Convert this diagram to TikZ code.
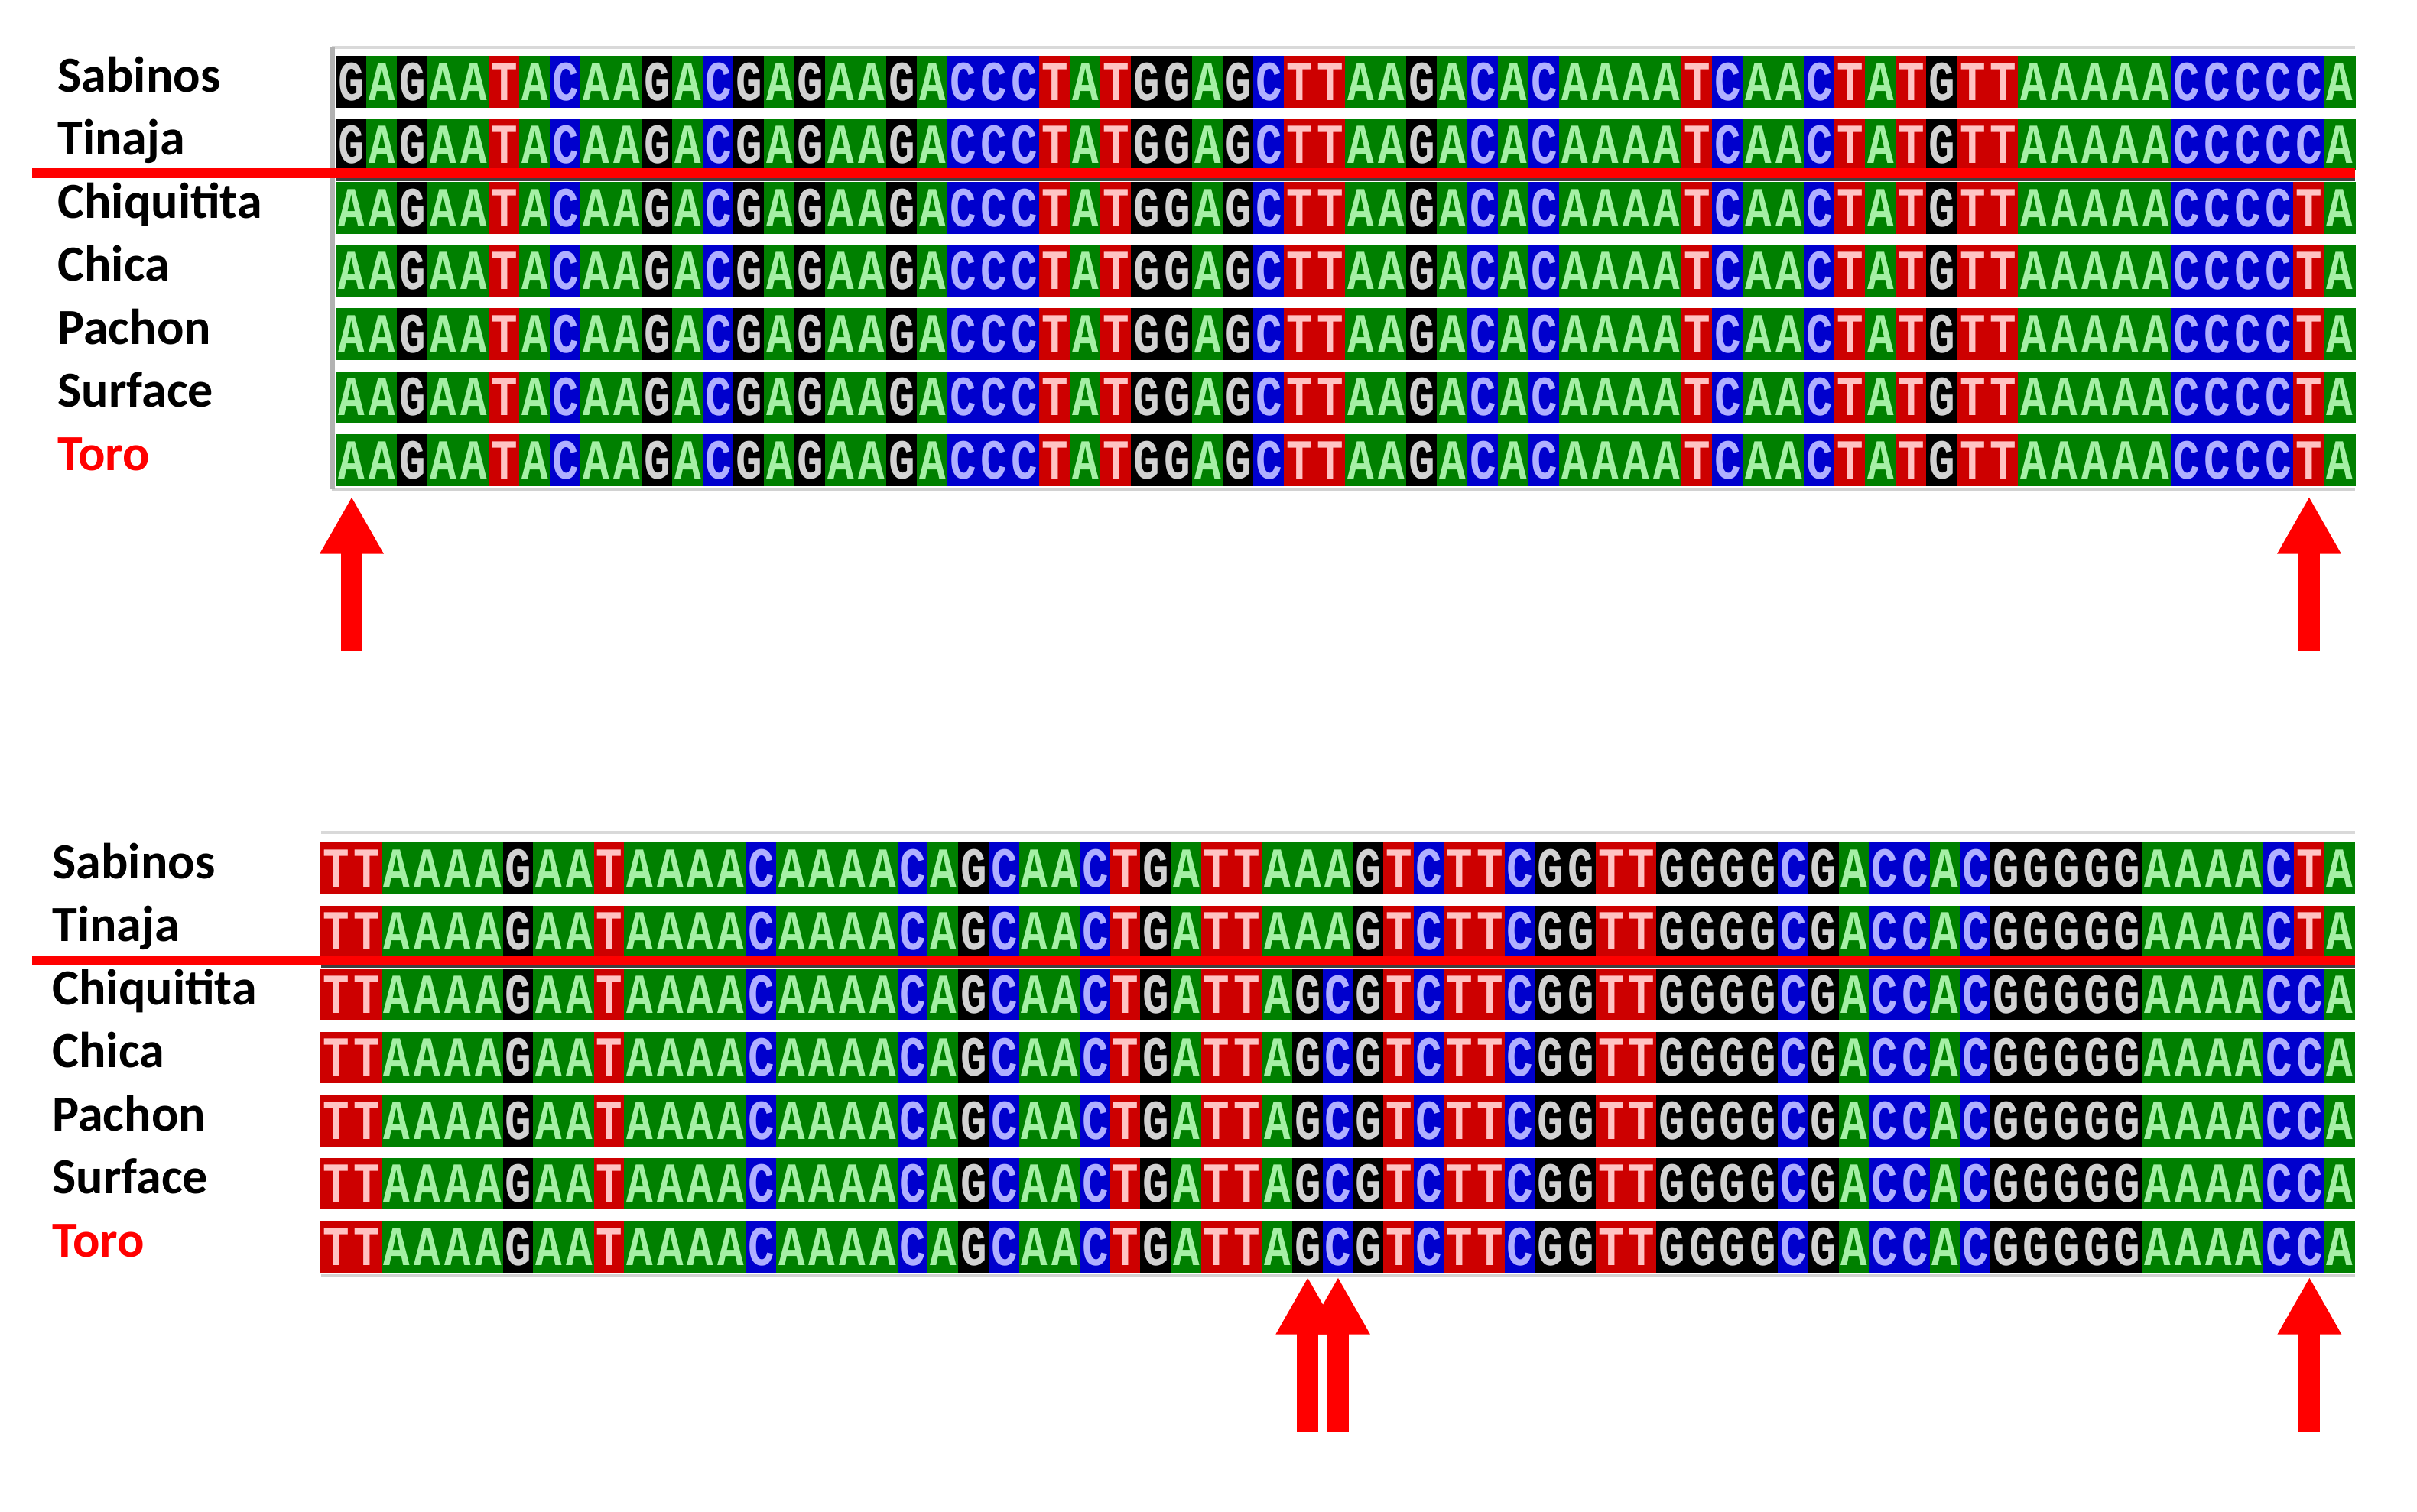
\documentclass[tikz,border=0pt]{standalone}
\usepackage{fontspec}
\setmainfont{Carlito}
\newfontfamily\seqfont{Liberation Mono}[FakeStretch=0.78]
\usepackage{tikz}
\usetikzlibrary{positioning,arrows.meta}
\usepackage{xcolor}

\definecolor{ntgreen}{RGB}{0,128,0}
\definecolor{ntblue}{RGB}{0,0,205}
\definecolor{ntred}{RGB}{205,0,0}
\definecolor{ntblack}{RGB}{0,0,0}
\definecolor{ltgreen}{RGB}{165,240,165}
\definecolor{ltblue}{RGB}{175,175,255}
\definecolor{ltgrey}{RGB}{210,210,210}
\definecolor{ltpink}{RGB}{255,195,195}
\definecolor{markred}{RGB}{255,0,0}

\tikzset{
  nt/.style={minimum width=0.40cm, minimum height=0.66cm, inner sep=0pt, line width=0.3pt,
    font=\seqfont\bfseries\fontsize{21pt}{21pt}\selectfont},
  ntA/.style={fill=ntgreen, draw=ntgreen, text=ltgreen},
  ntC/.style={fill=ntblue, draw=ntblue, text=ltblue},
  ntG/.style={fill=ntblack, draw=ntblack, text=ltgrey},
  ntT/.style={fill=ntred, draw=ntred, text=ltpink},
  taxon/.style={anchor=base west, font=\bfseries\fontsize{18.8pt}{22pt}\selectfont},
  sepline/.style={draw=markred, line width=0.13cm},
  snparrow/.style={draw=markred, line width=0.28cm, -{Triangle[width=0.78cm,length=0.75cm]}}
}

% alignment columns
\newcommand{\topref}{G,A,G,A,A,T,A,C,A,A,G,A,C,G,A,G,A,A,G,A,C,C,C,T,A,T,G,G,A,G,C,T,T,A,A,G,A,C,A,C,A,A,A,A,T,C,A,A,C,T,A,T,G,T,T,A,A,A,A,A,C,C,C,C,C,A}
\newcommand{\topalt}{A,A,G,A,A,T,A,C,A,A,G,A,C,G,A,G,A,A,G,A,C,C,C,T,A,T,G,G,A,G,C,T,T,A,A,G,A,C,A,C,A,A,A,A,T,C,A,A,C,T,A,T,G,T,T,A,A,A,A,A,C,C,C,C,T,A}
\newcommand{\botref}{T,T,A,A,A,A,G,A,A,T,A,A,A,A,C,A,A,A,A,C,A,G,C,A,A,C,T,G,A,T,T,A,A,A,G,T,C,T,T,C,G,G,T,T,G,G,G,G,C,G,A,C,C,A,C,G,G,G,G,G,A,A,A,A,C,T,A}
\newcommand{\botalt}{T,T,A,A,A,A,G,A,A,T,A,A,A,A,C,A,A,A,A,C,A,G,C,A,A,C,T,G,A,T,T,A,G,C,G,T,C,T,T,C,G,G,T,T,G,G,G,G,C,G,A,C,C,A,C,G,G,G,G,G,A,A,A,A,C,C,A}

\begin{document}
\begin{tikzpicture}
\useasboundingbox (0,0) rectangle (31.61,-19.77);

% frames
\draw[gray!30, line width=0.04cm] (4.34,-0.62) -- (30.80,-0.62);
\draw[gray!35, line width=0.04cm] (4.34,-6.40) -- (30.80,-6.40);
\draw[gray!60, line width=0.07cm] (4.34,-0.62) -- (4.34,-6.40);
\draw[gray!30, line width=0.04cm] (4.20,-10.89) -- (30.80,-10.89);
\draw[gray!35, line width=0.04cm] (4.20,-16.68) -- (30.80,-16.68);

% upper block
\foreach \r in {0,1}
  \foreach \b [count=\i] in \topref
    \node[nt, nt\b] (t\r-\i) at ({4.20+0.40*\i},{-1.07-0.825*\r}) {\b};
\foreach \r in {2,...,6}
  \foreach \b [count=\i] in \topalt
    \node[nt, nt\b] (t\r-\i) at ({4.20+0.40*\i},{-1.07-0.825*\r}) {\b};

% lower block
\foreach \r in {0,1}
  \foreach \b [count=\i] in \botref
    \node[nt, nt\b, minimum width=0.397cm] (b\r-\i) at ({4.0015+0.397*\i},{-11.36-0.825*\r}) {\b};
\foreach \r in {2,...,6}
  \foreach \b [count=\i] in \botalt
    \node[nt, nt\b, minimum width=0.397cm] (b\r-\i) at ({4.0015+0.397*\i},{-11.36-0.825*\r}) {\b};

% taxa
\foreach \n [count=\r from 0] in {Sabinos,Tinaja,Chiquitita,Chica,Pachon,Surface} {
  \node[taxon] (tl\r) at (0.63,{-1.20-0.825*\r}) {\n};
  \node[taxon] (bl\r) at (0.56,{-11.49-0.825*\r}) {\n};
}
\node[taxon, text=markred] (tl6) at (0.63,-6.15) {Toro};
\node[taxon, text=markred] (bl6) at (0.56,-16.44) {Toro};

% separators
\draw[black!75, line width=0.04cm] (4.40,-2.35) -- (30.80,-2.35);
\draw[sepline] (0.42,-2.265) -- (30.80,-2.265);
\draw[black!75, line width=0.04cm] (4.20,-12.64) -- (30.80,-12.64);
\draw[sepline] (0.42,-12.56) -- (30.80,-12.56);

% arrows
\coordinate[below=2.16cm of t6-1.south] (tailA);
\coordinate[below=2.16cm of t6-65.south] (tailB);
\coordinate[below=2.08cm of b6-33.south] (tailC);
\coordinate[below=2.08cm of b6-34.south] (tailD);
\coordinate[below=2.08cm of b6-66.south] (tailE);
\draw[snparrow] (tailA) -- ([yshift=-0.14cm]t6-1.south);
\draw[snparrow] (tailB) -- ([yshift=-0.14cm]t6-65.south);
\draw[snparrow] (tailC) -- ([yshift=-0.06cm]b6-33.south);
\draw[snparrow] (tailD) -- ([yshift=-0.06cm]b6-34.south);
\draw[snparrow] (tailE) -- ([yshift=-0.06cm]b6-66.south);
\end{tikzpicture}
\end{document}
